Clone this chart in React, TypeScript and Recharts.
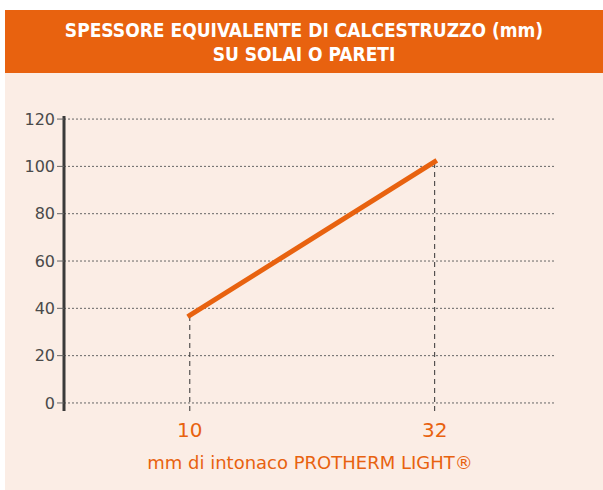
import React from "react";
import {
  LineChart,
  Line,
  XAxis,
  YAxis,
  ReferenceLine,
  Label,
} from "recharts";

const thickness = [10, 32];
const concreteEq = [37, 102];
const yTicks = [0, 20, 40, 60, 80, 100, 120];
const titleLines = ["SPESSORE EQUIVALENTE DI CALCESTRUZZO (mm)", "SU SOLAI O PARETI"];
const xLabel = "mm di intonaco PROTHERM LIGHT®";

const ORANGE = "#E8620F";
const BG = "#FBEDE5";
const FONT = "'DejaVu Sans', sans-serif";

const data = thickness.map((t, i) => ({ x: t, y: concreteEq[i] }));

export default function App() {
  return (
    <div style={{ position: "relative", width: 603, height: 490, background: "#fff", overflow: "hidden" }}>
      <style>{`body{margin:0}`}</style>
      <div
        style={{
          position: "absolute",
          left: 5,
          top: 10,
          width: 598,
          height: 63,
          background: ORANGE,
          color: "#fff",
          fontFamily: "'DejaVu Sans Condensed', sans-serif",
          fontWeight: 700,
          fontSize: 19,
          lineHeight: "24px",
          textAlign: "center",
          paddingTop: 8,
          boxSizing: "border-box",
        }}
      >
        {titleLines.map((l) => (
          <div key={l}>{l}</div>
        ))}
      </div>
      <div style={{ position: "absolute", left: 5, top: 73, width: 598, height: 417, background: BG }} />
      <div style={{ position: "absolute", left: 0, top: 0 }}>
        <LineChart
          width={603}
          height={490}
          data={data}
          margin={{ top: 116, right: 47, bottom: 0, left: 0 }}
        >
          <XAxis
            dataKey="x"
            type="number"
            domain={[-1.3, 42.9]}
            ticks={thickness}
            axisLine={false}
            tickLine={false}
            height={79}
            tickMargin={6}
            tick={{ fill: ORANGE, fontSize: 20, fontFamily: FONT }}
          >
            <Label
              value={xLabel}
              position="insideBottom"
              offset={21}
              style={{ fill: ORANGE, fontSize: 18, fontFamily: FONT }}
            />
          </XAxis>
          <YAxis
            domain={[-3.4, 121.3]}
            ticks={yTicks}
            width={64}
            axisLine={{ stroke: "#3a3a3a", strokeWidth: 3 }}
            tickLine={{ stroke: "#666" }}
            tickSize={7}
            tickMargin={2}
            tick={{ fill: "#4a4a4a", fontSize: 16, fontFamily: FONT }}
          />
          {yTicks.map((t) => (
            <ReferenceLine key={"g" + t} y={t} stroke="#666" strokeDasharray="2 2" />
          ))}
          {data.map((d) => (
            <ReferenceLine
              key={d.x}
              segment={[
                { x: d.x, y: -3.4 },
                { x: d.x, y: d.y },
              ]}
              stroke="#333"
              strokeDasharray="5 4"
            />
          ))}
          <Line
            type="linear"
            dataKey="y"
            stroke={ORANGE}
            strokeWidth={5}
            strokeLinecap="square"
            dot={false}
            isAnimationActive={false}
          />
        </LineChart>
      </div>
    </div>
  );
}
